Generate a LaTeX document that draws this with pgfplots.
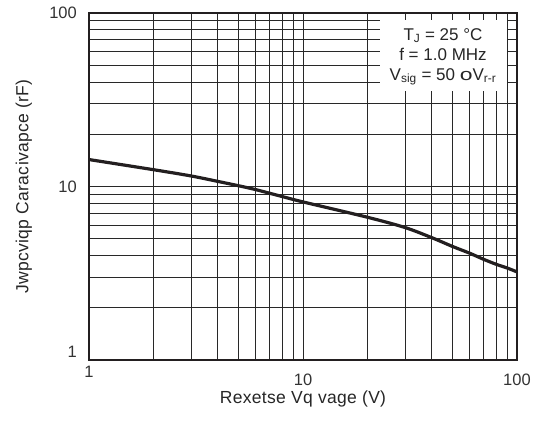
\documentclass[border=0pt]{standalone}
\usepackage{fontspec}
\setmainfont{Liberation Sans}
\newfontfamily\labelfont[LetterSpace=1.8]{Liberation Sans}
\usepackage{pgfplots}
\pgfplotsset{compat=1.18}
\definecolor{curve}{RGB}{35,31,32}
\definecolor{gridc}{RGB}{40,40,40}
\begin{document}
\begin{tikzpicture}
\begin{loglogaxis}[
    scale only axis,
    width=428pt,
    height=347pt,
    xmin=1, xmax=100,
    ymin=1, ymax=100,
    xtick={10,100},
    xticklabels={10,100},
    ytick={10,100},
    yticklabels={10,100},
    extra x ticks={1},
    extra x tick labels={1},
    extra y ticks={1},
    extra y tick labels={1},
    extra x tick style={grid=none, xticklabel style={yshift=8pt}},
    extra y tick style={grid=none, yticklabel style={yshift=8pt}},
    minor xtick={2,3,4,5,6,7,8,9,20,30,40,50,60,70,80,90},
    minor ytick={2,3,4,5,6,7,8,9,20,30,40,50,60,70,80,90},
    grid=both,
    major grid style={gridc, line width=0.9pt},
    minor grid style={gridc, line width=0.9pt},
    axis line style={line width=2pt, curve},
    tick style={draw=none},
    tick label style={font=\fontsize{16.5}{19}\selectfont, text=black!80, inner sep=1pt},
    xticklabel style={yshift=-12.5pt},
    yticklabel style={xshift=-11pt},
    label style={font=\labelfont\fontsize{17.5}{20}\selectfont, text=black!85, inner sep=1pt},
    xlabel={Rexetse Vq vage (V)},
    ylabel={Jwpcviqp Caracivapce (rF)},
    xlabel style={at={(axis description cs:0.5,-0.113)}, anchor=center},
    ylabel style={at={(axis description cs:-0.152,0.5)}, anchor=center},
]
\addplot[line width=3.2pt, color=curve, smooth] coordinates {
    (1,14.3) (2,12.5) (3,11.5) (4,10.7) (5,10.1) (6,9.6) (8,8.75)
    (10,8.15) (20,6.65) (30,5.8) (40,5.07) (50,4.51) (60,4.13)
    (70,3.8) (80,3.56) (90,3.39) (100,3.22)
};
\fill[white] (axis cs:22.9,35.7) rectangle (axis cs:89.8,91.6);
\node[align=center, font=\fontsize{17}{20}\selectfont, text=black!85]
    at (axis cs:45.1,56.0) {T\textsubscript{J} = 25 °C\\
    f = 1.0 MHz\\
    V\textsubscript{sig} = 50 \scalebox{1.35}[1]{o}V\textsubscript{r-r}};
\end{loglogaxis}
\path ([shift={(-89pt,-66pt)}]current axis.south west) rectangle ++(535pt,426pt);
\end{tikzpicture}
\end{document}
